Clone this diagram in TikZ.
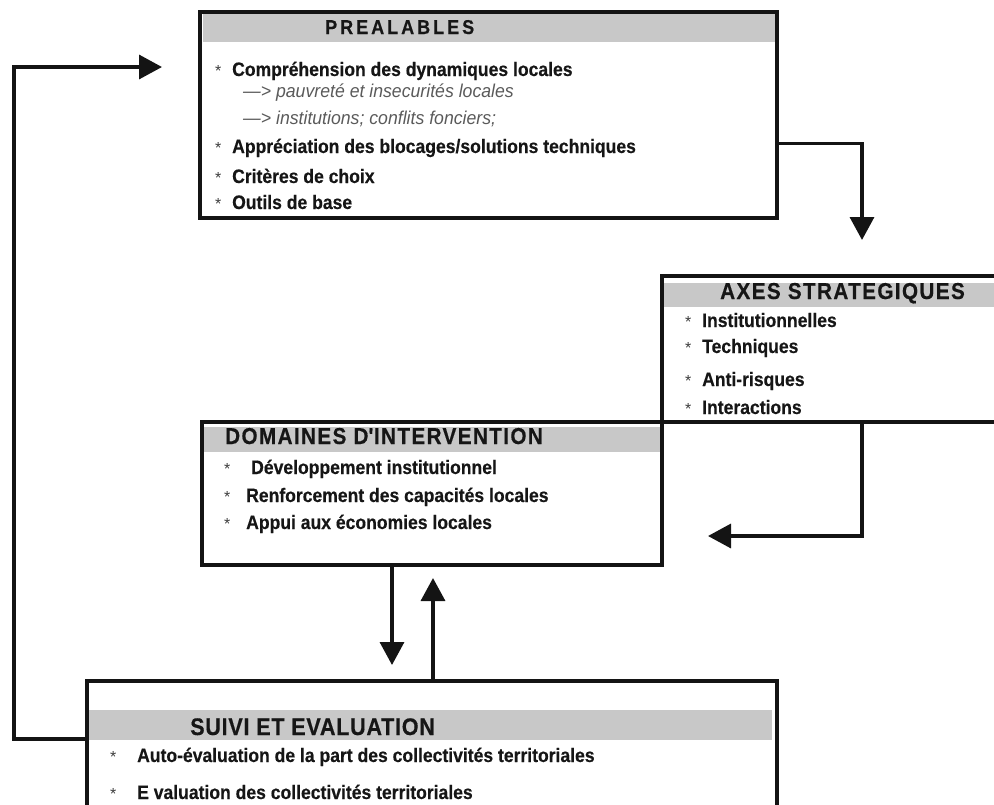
\documentclass[tikz,border=0pt]{standalone}
\usepackage{fontspec}
\setmainfont{Liberation Sans}
\newfontfamily\condb{Liberation Sans Bold}[FakeStretch=0.9,FakeBold=0.4]
\newfontfamily\condi{Liberation Sans Italic}[FakeStretch=0.95]
\usetikzlibrary{arrows.meta}
\definecolor{bandgray}{RGB}{200,200,200}
\definecolor{ink}{RGB}{22,22,22}
\definecolor{itgray}{RGB}{90,90,90}
\definecolor{bulgray}{RGB}{60,60,60}
\definecolor{frame}{RGB}{20,20,20}
\newcommand\bul[1]{\makebox[#1][l]{\normalfont\color{bulgray}\fontsize{16pt}{16pt}\selectfont *}}
\newcommand\hdfont[2]{\fontsize{#1}{#1}\selectfont\addfontfeature{LetterSpace=#2}}
\begin{document}
\begin{tikzpicture}[x=1pt,y=-1pt,
  box/.style={draw=frame,line width=4pt,inner sep=0pt,outer sep=0pt,anchor=north west,rectangle},
  band/.style={fill=bandgray},
  head/.style={inner sep=0pt,anchor=base west,text=ink,font=\condb},
  item/.style={inner sep=0pt,anchor=base west,text=ink,font=\condb\fontsize{19.5pt}{22pt}\selectfont},
  sub/.style={inner sep=0pt,anchor=base west,text=itgray,font=\condi\fontsize{18.6pt}{20pt}\selectfont},
  conn/.style={draw=frame,line width=3.4pt,-{Triangle[length=23pt,width=24pt]}},
]
\useasboundingbox (0,0) rectangle (994,804);
\clip (0,0) rectangle (994,804);
% header bands
\fill[band] (203,14) rectangle (775,42);
\fill[band] (664,283) rectangle (994,307);
\fill[band] (204,427) rectangle (660,452);
\fill[band] (89,710) rectangle (772,740);
% boxes
\node[box,minimum width=577pt,minimum height=206pt] (prea) at (200,12) {};
\node[box,minimum width=345pt,minimum height=146pt] (axes) at (662,276) {};
\node[box,minimum width=460pt,minimum height=143pt] (dom) at (202,422) {};
\node[box,minimum width=690pt,minimum height=130pt] (suivi) at (87,681) {};
% PREALABLES
\node[head] (hpre) at (325,34) {\hdfont{20pt}{15}PREALABLES};
\node[item] (p1) at (215,76) {\bul{17pt}Compréhension des dynamiques locales};
\node[sub] (p2) at (243,97) {—> pauvreté et insecurités locales};
\node[sub] (p3) at (243,124) {—> institutions; conflits fonciers;};
\node[item] (p4) at (215,153) {\bul{17pt}Appréciation des blocages/solutions techniques};
\node[item] (p5) at (215,183) {\bul{17pt}Critères de choix};
\node[item] (p6) at (215,209) {\bul{17pt}Outils de base};
% AXES
\node[head] (haxes) at (720,299) {\hdfont{23pt}{6}AXES STRATEGIQUES};
\node[item] (a1) at (685,327) {\bul{17pt}Institutionnelles};
\node[item] (a2) at (685,353) {\bul{17pt}Techniques};
\node[item] (a3) at (685,386) {\bul{17pt}Anti-risques};
\node[item] (a4) at (685,414) {\bul{17pt}Interactions};
% DOMAINES
\node[head] (hdom) at (225,444) {\hdfont{23pt}{6}DOMAINES D\textquotesingle INTERVENTION};
\node[item] (d1) at (224,474) {\bul{27pt}Développement institutionnel};
\node[item] (d2) at (224,502) {\bul{22pt}Renforcement des capacités locales};
\node[item] (d3) at (224,529) {\bul{22pt}Appui aux économies locales};
% SUIVI
\node[head] (hsuivi) at (190,735) {\hdfont{24pt}{3}SUIVI ET EVALUATION};
\node[item] (s1) at (110,762) {\bul{27pt}Auto-évaluation de la part des collectivités territoriales};
\node[item] (s2) at (110,799) {\bul{27pt}E valuation des collectivités territoriales};
% connectors
\coordinate (tipA) at (862,240);
\coordinate (tipB) at (708,536);
\coordinate (tipC) at (392,665);
\coordinate (tipD) at (433,578);
\coordinate (loop) at (14,67);
\coordinate (tipE) at (162,67);
\draw[conn] ([yshift=-28.5pt]prea.east) -| (tipA);
\draw[conn] (tipA |- axes.south) |- (tipB);
\draw[conn] (tipC |- dom.south) -- (tipC);
\draw[conn] (tipD |- suivi.north) -- (tipD);
\draw[conn] ([yshift=7pt]suivi.west) -| (loop) -- (tipE);
\end{tikzpicture}
\end{document}
